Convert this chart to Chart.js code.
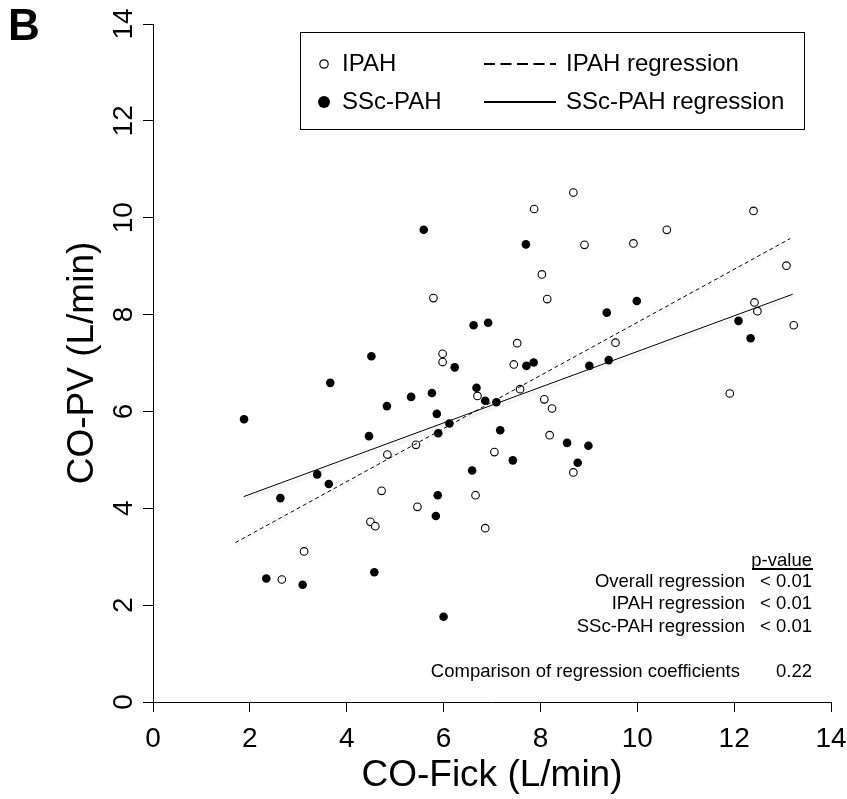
<!DOCTYPE html>
<html><head><meta charset="utf-8">
<script src="https://cdn.jsdelivr.net/npm/chart.js@4.4.1/dist/chart.umd.min.js"></script>
<style>html,body{margin:0;padding:0;background:#fff;} canvas{display:block;}</style>
</head><body>
<canvas id="c" width="847" height="799"></canvas>
<script>
// ---- data ----
const ipahX = [2.66,3.12,4.49,4.59,4.72,4.84,5.43,5.46,5.79,5.98,5.98,6.66,6.70,6.86,7.05,7.45,7.52,7.58,7.87,8.03,8.08,8.14,8.19,8.24,8.68,8.68,8.91,9.55,9.92,10.61,11.91,12.40,12.42,12.48,13.08,13.23];
const ipahY = [2.53,3.11,3.72,3.63,4.36,5.11,5.31,4.03,8.34,7.19,7.02,4.27,6.32,3.59,5.16,6.97,7.41,6.46,10.18,8.83,6.25,8.32,5.51,6.06,4.74,10.52,9.44,7.42,9.47,9.75,6.37,10.14,8.25,8.07,9.01,7.78];
const sscX = [1.88,2.34,2.63,3.09,3.39,3.63,3.66,4.46,4.51,4.57,4.83,5.33,5.59,5.76,5.84,5.86,5.88,5.89,6.00,6.12,6.23,6.59,6.62,6.68,6.86,6.92,7.09,7.17,7.43,7.70,7.71,7.86,8.55,8.77,8.99,9.01,9.37,9.41,9.99,12.09,12.34];
const sscY = [5.84,2.55,4.21,2.42,4.70,4.50,6.59,5.49,7.14,2.68,6.11,6.30,9.75,6.38,3.84,5.95,4.27,5.55,1.76,5.75,6.91,4.78,7.78,6.49,6.22,7.83,6.19,5.61,4.99,9.45,6.94,7.01,5.35,4.94,5.29,6.94,8.04,7.06,8.28,7.87,7.51];
const ipahRegX = [1.70, 13.16];
const ipahRegY = [3.29, 9.57];
const sscRegX = [1.87, 13.21];
const sscRegY = [4.24, 8.42];
const axisTicks = [0, 2, 4, 6, 8, 10, 12, 14];
const seriesNames = ['IPAH', 'SSc-PAH'];
const lineNames = ['IPAH regression', 'SSc-PAH regression'];
const statHeader = 'p-value';
const statLabels = ['Overall regression', 'IPAH regression', 'SSc-PAH regression'];
const statValues = ['< 0.01', '< 0.01', '< 0.01'];
const compareLabel = 'Comparison of regression coefficients';
const compareValue = '0.22';
const panelLetter = 'B';
const xTitle = 'CO-Fick (L/min)';
const yTitle = 'CO-PV (L/min)';

const FONT = '"Liberation Sans", Arial, Helvetica, sans-serif';
const zip = (xs, ys) => xs.map((x, i) => ({x, y: ys[i]}));

const lineShadow = {
  id: 'lineShadow',
  beforeDatasetDraw(chart, args) {
    if (args.index > 1) return;
    const ctx = chart.ctx;
    ctx.save();
    ctx.shadowColor = 'rgba(0,0,0,0.16)';
    ctx.shadowBlur = 3;
    ctx.shadowOffsetX = 1;
    ctx.shadowOffsetY = 3;
  },
  afterDatasetDraw(chart, args) {
    if (args.index > 1) return;
    chart.ctx.restore();
  }
};

const annot = {
  id: 'annot',
  afterDraw(chart) {
    const ctx = chart.ctx;
    ctx.save();
    ctx.fillStyle = '#000';
    ctx.strokeStyle = '#000';
    // panel letter
    ctx.font = 'bold 44px ' + FONT;
    ctx.textAlign = 'left';
    ctx.textBaseline = 'top';
    ctx.fillText(panelLetter, 8, 6);
    // legend box
    ctx.lineWidth = 1;
    ctx.strokeRect(300.5, 32.5, 504, 97);
    const rows = [64, 102];
    ctx.font = '24px ' + FONT;
    ctx.textBaseline = 'middle';
    ctx.beginPath(); ctx.arc(324, rows[0], 4.2, 0, Math.PI * 2);
    ctx.fillStyle = '#fff'; ctx.fill(); ctx.lineWidth = 1.2; ctx.stroke();
    ctx.fillStyle = '#000';
    ctx.beginPath(); ctx.arc(324, rows[1], 6, 0, Math.PI * 2); ctx.fill();
    ctx.fillText(seriesNames[0], 342, rows[0]);
    ctx.fillText(seriesNames[1], 342, rows[1]);
    ctx.lineWidth = 2;
    ctx.setLineDash([11, 5.5]);
    ctx.beginPath(); ctx.moveTo(484, rows[0]); ctx.lineTo(556, rows[0]); ctx.stroke();
    ctx.setLineDash([]);
    ctx.beginPath(); ctx.moveTo(484, rows[1]); ctx.lineTo(556, rows[1]); ctx.stroke();
    ctx.fillText(lineNames[0], 566, rows[0]);
    ctx.fillText(lineNames[1], 566, rows[1]);
    // stats block
    ctx.font = '18.5px ' + FONT;
    ctx.textAlign = 'right';
    ctx.fillText(statHeader, 812, 561);
    ctx.lineWidth = 2;
    ctx.beginPath(); ctx.moveTo(752, 569); ctx.lineTo(813, 569); ctx.stroke();
    const ys = [582, 604, 627];
    statLabels.forEach((t, i) => {
      ctx.fillText(t, 745, ys[i]);
      ctx.fillText(statValues[i], 812, ys[i]);
    });
    ctx.fillText(compareLabel, 740, 672);
    ctx.fillText(compareValue, 812, 672);
    ctx.restore();
  }
};

const axisCommon = {
  type: 'linear',
  min: 0, max: 14,
  afterBuildTicks: s => { s.ticks = axisTicks.map(v => ({value: v})); },
  grid: {drawOnChartArea: false, drawTicks: true, tickLength: 10, color: '#000', lineWidth: 1},
  border: {display: true, color: '#000', width: 1},
};

new Chart(document.getElementById('c'), {
  type: 'scatter',
  data: {
    datasets: [
      {label: lineNames[0], type: 'line', data: zip(ipahRegX, ipahRegY), borderColor: '#000', borderWidth: 1, borderDash: [4, 3], pointRadius: 0, fill: false},
      {label: lineNames[1], type: 'line', data: zip(sscRegX, sscRegY), borderColor: '#000', borderWidth: 1, pointRadius: 0, fill: false},
      {label: seriesNames[0], data: zip(ipahX, ipahY), pointStyle: 'circle', pointRadius: 3.8, backgroundColor: '#fff', borderColor: '#000', borderWidth: 1.1},
      {label: seriesNames[1], data: zip(sscX, sscY), pointStyle: 'circle', pointRadius: 4.3, backgroundColor: '#000', borderColor: '#000', borderWidth: 0},
    ]
  },
  options: {
    responsive: false,
    animation: false,
    devicePixelRatio: 1,
    layout: {padding: {left: 0, top: 24, right: 16, bottom: 0}},
    plugins: {legend: {display: false}, tooltip: {enabled: false}},
    scales: {
      x: Object.assign({}, axisCommon, {
        position: 'bottom',
        afterFit: s => { s.height = 97; s.paddingLeft = 0; s.paddingRight = 0; },
        ticks: {font: {family: FONT, size: 28}, color: '#000', padding: 10, maxRotation: 0, minRotation: 0},
        title: {display: true, text: xTitle, color: '#000', font: {family: FONT, size: 37}, padding: {top: 0, bottom: 1}},
      }),
      y: Object.assign({}, axisCommon, {
        position: 'left',
        afterFit: s => { s.width = 153; s.paddingTop = 0; s.paddingBottom = 0; },
        ticks: {font: {family: FONT, size: 28}, color: '#000', padding: 3, minRotation: 90, maxRotation: 90, crossAlign: 'center'},
        title: {display: true, text: yTitle, color: '#000', font: {family: FONT, size: 37}, padding: {top: 61, bottom: 0}},
      }),
    }
  },
  plugins: [lineShadow, annot]
});
</script>
</body></html>
